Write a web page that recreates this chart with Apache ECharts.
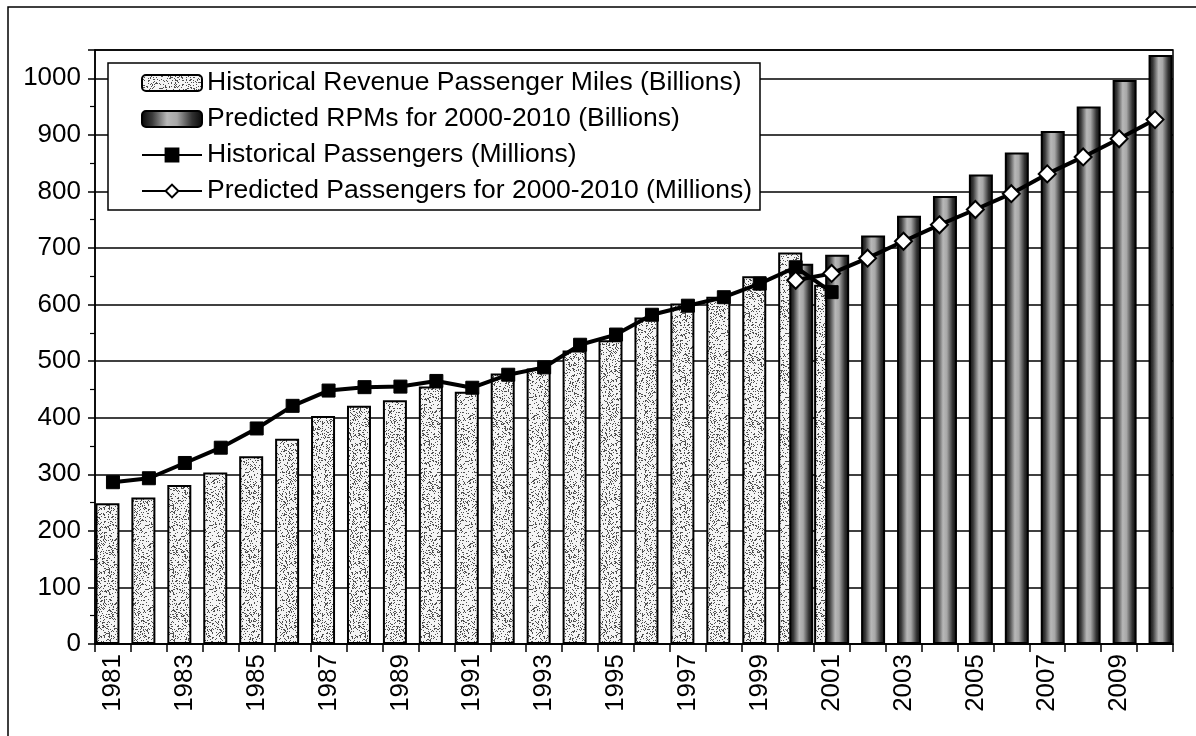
<!DOCTYPE html>
<html>
<head>
<meta charset="utf-8">
<title>Revenue Passenger Miles and Passengers, 1981-2010</title>
<script src="https://cdn.jsdelivr.net/npm/echarts@6/dist/echarts.min.js"></script>
<style>
  html, body { margin: 0; padding: 0; background: #ffffff; }
  #chart { width: 1196px; height: 736px; }
</style>
</head>
<body>
<div id="chart"></div>
<script>
// Years on the category axis
const years = [
  '1981','1982','1983','1984','1985','1986','1987','1988','1989','1990',
  '1991','1992','1993','1994','1995','1996','1997','1998','1999','2000',
  '2001','2002','2003','2004','2005','2006','2007','2008','2009','2010'
];

// Historical revenue passenger miles (billions), 1981-2001
const historicalRPM = [
  249, 259, 281, 303, 332, 363, 403, 421, 431, 455,
  446, 478, 487, 519, 537, 577, 602, 614, 650, 692,
  635, null, null, null, null, null, null, null, null, null
];

// Predicted RPMs (billions), 2000-2010
const predictedRPM = [
  null, null, null, null, null, null, null, null, null, null,
  null, null, null, null, null, null, null, null, null, 672,
  688, 722, 757, 792, 830, 869, 907, 950, 997, 1041
];

// Historical passengers (millions), 1981-2001
const historicalPax = [
  286, 293, 320, 347, 381, 421, 448, 454, 455, 465,
  453, 476, 489, 529, 547, 582, 598, 613, 637, 666,
  622, null, null, null, null, null, null, null, null, null
];

// Predicted passengers (millions), 2000-2010
const predictedPax = [
  null, null, null, null, null, null, null, null, null, null,
  null, null, null, null, null, null, null, null, null, 643,
  655, 682, 712, 741, 768, 796, 831, 861, 893, 927
];

const seriesNames = [
  'Historical Revenue Passenger Miles (Billions)',
  'Predicted RPMs for 2000-2010 (Billions)',
  'Historical Passengers (Millions)',
  'Predicted Passengers for 2000-2010 (Millions)'
];

const FONT = '"Liberation Sans", Arial, sans-serif';

// Light stippled texture for the historical bars
function stipple(base, dot, density, size) {
  const c = document.createElement('canvas');
  c.width = size; c.height = size;
  const ctx = c.getContext('2d');
  ctx.fillStyle = base;
  ctx.fillRect(0, 0, size, size);
  ctx.fillStyle = dot;
  let s = 12345;
  for (let y = 0; y < size; y++) {
    for (let x = 0; x < size; x++) {
      s = (s * 1103515245 + 12345) & 0x7fffffff;
      if ((s % 1000) / 1000 < density) ctx.fillRect(x, y, 1, 1);
    }
  }
  return c;
}
const histFill = { image: stipple('#f4f4f4', '#505050', 0.2, 64), repeat: 'repeat' };

// Dark cylinder-like shading for the predicted bars
const predFill = {
  type: 'linear', x: 0, y: 0, x2: 1, y2: 0,
  colorStops: [
    { offset: 0.00, color: '#050505' },
    { offset: 0.18, color: '#3a3a3a' },
    { offset: 0.42, color: '#b8b8b8' },
    { offset: 0.58, color: '#a8a8a8' },
    { offset: 0.82, color: '#333333' },
    { offset: 1.00, color: '#050505' }
  ]
};

const chart = echarts.init(document.getElementById('chart'), null, { renderer: 'canvas' });

chart.setOption({
  backgroundColor: '#ffffff',
  animation: false,
  textStyle: { fontFamily: FONT, color: '#000' },
  graphic: [{
    type: 'rect',
    shape: { x: 8, y: 7, width: 1200, height: 740 },
    style: { fill: 'none', stroke: '#000', lineWidth: 1.5 },
    silent: true
  }],
  grid: {
    left: 95, right: 23, top: 50, bottom: 92,
    show: true, borderColor: '#000', borderWidth: 1.5, backgroundColor: 'transparent'
  },
  legend: {
    orient: 'vertical',
    left: 108, top: 63,
    padding: [6, 8, 5, 33],
    itemWidth: 60, itemHeight: 16, itemGap: 8,
    backgroundColor: '#ffffff',
    borderColor: '#000', borderWidth: 1.5,
    textStyle: { fontFamily: FONT, fontSize: 26.5, color: '#000', lineHeight: 28 },
    data: seriesNames
  },
  xAxis: {
    type: 'category',
    data: years,
    boundaryGap: true,
    axisLine: { lineStyle: { color: '#000', width: 1.5 } },
    axisTick: { show: true, interval: 0, length: 8, lineStyle: { color: '#000', width: 1.5 } },
    axisLabel: {
      interval: 1, rotate: 90, margin: 10,
      fontFamily: FONT, fontSize: 26, color: '#000'
    },
    splitLine: { show: false }
  },
  yAxis: {
    type: 'value',
    min: 0, max: 1050, interval: 100,
    axisLine: { show: true, lineStyle: { color: '#000', width: 1.5 } },
    axisTick: { show: true, length: 7, lineStyle: { color: '#000', width: 1.5 } },
    minorTick: { show: true, splitNumber: 2, length: 5, lineStyle: { color: '#000', width: 1.2 } },
    axisLabel: {
      margin: 14, fontFamily: FONT, fontSize: 26, color: '#000',
      formatter: v => (v % 100 === 0 ? String(v) : '')
    },
    splitLine: { show: true, lineStyle: { color: '#000', width: 1.5 } }
  },
  series: [
    {
      name: seriesNames[0],
      type: 'bar',
      data: historicalRPM,
      barWidth: 24,
      barGap: '-54%',
      itemStyle: { color: histFill, borderColor: '#000', borderWidth: 2 },
      z: 2
    },
    {
      name: seriesNames[1],
      type: 'bar',
      data: predictedRPM,
      barWidth: 24,
      barGap: '-54%',
      itemStyle: { color: predFill, borderColor: '#000', borderWidth: 2 },
      z: 2
    },
    {
      name: seriesNames[2],
      type: 'line',
      data: historicalPax,
      symbol: 'rect',
      symbolSize: 13,
      lineStyle: { color: '#000', width: 4 },
      itemStyle: { color: '#000', borderColor: '#000', borderWidth: 1 },
      z: 4
    },
    {
      name: seriesNames[3],
      type: 'line',
      data: predictedPax,
      symbol: 'diamond',
      symbolSize: 17,
      lineStyle: { color: '#000', width: 4 },
      itemStyle: { color: '#ffffff', borderColor: '#000', borderWidth: 2 },
      z: 5
    }
  ]
});
</script>
</body>
</html>
